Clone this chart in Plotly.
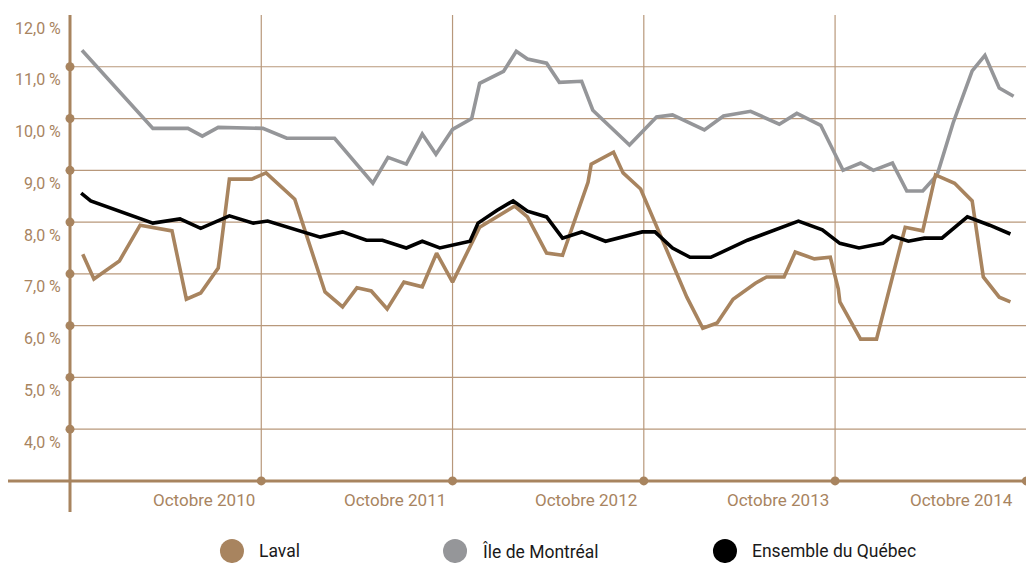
import plotly.graph_objects as go

# mois depuis octobre 2009 (0 = oct. 2009, 12 = oct. 2010, ...)
mois_laval = [0.8, 1.5, 3.1, 4.4, 6.4, 7.3, 8.2, 9.3, 10.0, 11.4, 12.3, 14.1, 16.0, 17.1, 18.0,
              18.9, 19.9, 20.95, 22.1, 23.0, 24.0, 25.7, 27.9, 28.7, 29.9, 30.9, 32.5, 32.7,
              34.1, 34.7, 35.8, 38.7, 39.7, 40.6, 41.6, 43.0, 43.7, 44.8, 45.5, 46.7, 47.7,
              48.2, 48.3, 49.6, 50.6, 52.4, 53.5, 54.3, 55.5, 56.6, 57.3, 58.3, 59.0]
taux_laval = [7.38, 6.90, 7.25, 7.94, 7.83, 6.51, 6.63, 7.11, 8.83, 8.83, 8.95, 8.44, 6.65, 6.36, 6.73,
              6.67, 6.32, 6.84, 6.75, 7.40, 6.84, 7.90, 8.31, 8.10, 7.40, 7.36, 8.77, 9.12,
              9.35, 8.95, 8.64, 6.55, 5.95, 6.05, 6.51, 6.82, 6.94, 6.94, 7.42, 7.29, 7.32,
              6.71, 6.46, 5.74, 5.74, 7.90, 7.83, 8.91, 8.75, 8.41, 6.94, 6.55, 6.46]

mois_mtl = [0.75, 5.2, 7.4, 8.3, 9.3, 12.1, 13.6, 16.6, 19.0, 19.95, 21.1, 22.1, 22.96, 24.0, 25.2,
            25.7, 27.2, 28.0, 28.7, 29.9, 30.7, 32.1, 32.8, 35.1, 36.8, 37.8, 39.8, 41.0, 42.7,
            44.5, 45.6, 47.1, 48.5, 49.6, 50.4, 51.6, 52.5, 53.5, 54.4, 55.4, 56.6, 57.4, 58.3, 59.2]
taux_mtl = [11.32, 9.81, 9.81, 9.66, 9.83, 9.81, 9.62, 9.62, 8.75, 9.25, 9.12, 9.70, 9.31, 9.79, 10.0,
            10.68, 10.91, 11.30, 11.15, 11.07, 10.70, 10.72, 10.16, 9.49, 10.03, 10.07, 9.78, 10.05, 10.14,
            9.89, 10.10, 9.87, 9.0, 9.14, 9.0, 9.14, 8.60, 8.60, 8.91, 9.91, 10.92, 11.22, 10.59, 10.43]

mois_qc = [0.7, 1.3, 5.2, 6.9, 8.2, 10.0, 11.5, 12.4, 15.7, 17.1, 18.6, 19.6, 21.1, 22.1, 23.2,
           25.1, 25.6, 26.8, 27.8, 28.7, 29.9, 30.9, 32.1, 33.6, 35.9, 36.7, 37.8, 38.9, 40.2,
           42.5, 45.7, 47.2, 48.3, 49.5, 51.0, 51.6, 52.6, 53.6, 54.7, 56.3, 57.7, 59.0]
taux_qc = [8.56, 8.41, 7.98, 8.06, 7.88, 8.12, 7.98, 8.02, 7.71, 7.81, 7.65, 7.65, 7.50, 7.63, 7.50,
           7.63, 7.98, 8.23, 8.41, 8.21, 8.10, 7.69, 7.81, 7.63, 7.81, 7.81, 7.50, 7.32, 7.32,
           7.65, 8.02, 7.85, 7.59, 7.50, 7.59, 7.73, 7.63, 7.69, 7.69, 8.10, 7.94, 7.77]

y_ticks = [4, 5, 6, 7, 8, 9, 10, 11, 12]
x_grid = [12, 24, 36, 48]
x_labels = ["Octobre 2010", "Octobre 2011", "Octobre 2012", "Octobre 2013", "Octobre 2014"]
series = ["Laval", "Île de Montréal", "Ensemble du Québec"]

TAN = "#A8845F"
GRID = "#B8987B"
GRAY = "#959699"
FONT = "Roboto"

fig = go.Figure()
fig.add_trace(go.Scatter(x=mois_mtl, y=taux_mtl, mode="lines", line=dict(color=GRAY, width=3.6)))
fig.add_trace(go.Scatter(x=mois_laval, y=taux_laval, mode="lines", line=dict(color=TAN, width=3.6)))
fig.add_trace(go.Scatter(x=mois_qc, y=taux_qc, mode="lines", line=dict(color="black", width=3.6)))

# grille
for v in y_ticks[:-1]:
    fig.add_shape(type="line", x0=0, x1=60, y0=v, y1=v, line=dict(color=GRID, width=1.2), layer="below")
for t in x_grid:
    fig.add_shape(type="line", x0=t, x1=t, y0=3, y1=12, line=dict(color=GRID, width=1.2), layer="below")
# axes
fig.add_shape(type="line", xref="paper", x0=0, x1=1, y0=3, y1=3, line=dict(color=TAN, width=3))
fig.add_shape(type="line", x0=0, x1=0, yref="paper", y0=0, y1=1, line=dict(color=TAN, width=3))
# points sur les axes
fig.add_trace(go.Scatter(x=[0] * 8, y=y_ticks[:-1], mode="markers",
                         marker=dict(color=TAN, size=9), cliponaxis=False))
fig.add_trace(go.Scatter(x=x_grid + [60], y=[3] * 5, mode="markers",
                         marker=dict(color=TAN, size=9), cliponaxis=False))

for v in y_ticks:
    fig.add_annotation(x=0, y=v, text=f"{v},0 %", showarrow=False, xanchor="right",
                       xshift=-7, yshift=-13, font=dict(family=FONT, size=16, color=TAN))
for i, lab in enumerate(x_labels):
    pos = 12 * (i + 1) - 3.6 if i < 4 else 55.9
    fig.add_annotation(x=pos, y=3, text=lab, showarrow=False, yshift=-19,
                       font=dict(family=FONT, size=17, color=TAN))

# légende
leg_x = [0.2183, 0.4357, 0.6988]
leg_col = [TAN, GRAY, "black"]
for name, lx, c in zip(series, leg_x, leg_col):
    fig.add_shape(type="circle", xref="paper", yref="paper", xsizemode="pixel", ysizemode="pixel",
                  xanchor=lx, yanchor=-0.0785, x0=-12, x1=12, y0=-12, y1=12,
                  fillcolor=c, line=dict(width=0))
    fig.add_annotation(xref="paper", yref="paper", x=lx + 0.0244, y=-0.0785, text=name,
                       showarrow=False, xanchor="left", yanchor="middle",
                       font=dict(family=FONT, size=17.5, color="#1a1a1a"))

fig.update_layout(
    width=1026, height=555, showlegend=False,
    margin=dict(l=0, r=0, t=7, b=51),
    plot_bgcolor="white", paper_bgcolor="white",
    xaxis=dict(range=[-3.89, 60.48], showgrid=False, zeroline=False, showticklabels=False),
    yaxis=dict(range=[2.40, 12.0], showgrid=False, zeroline=False, showticklabels=False),
)
fig.write_html("out.html")
